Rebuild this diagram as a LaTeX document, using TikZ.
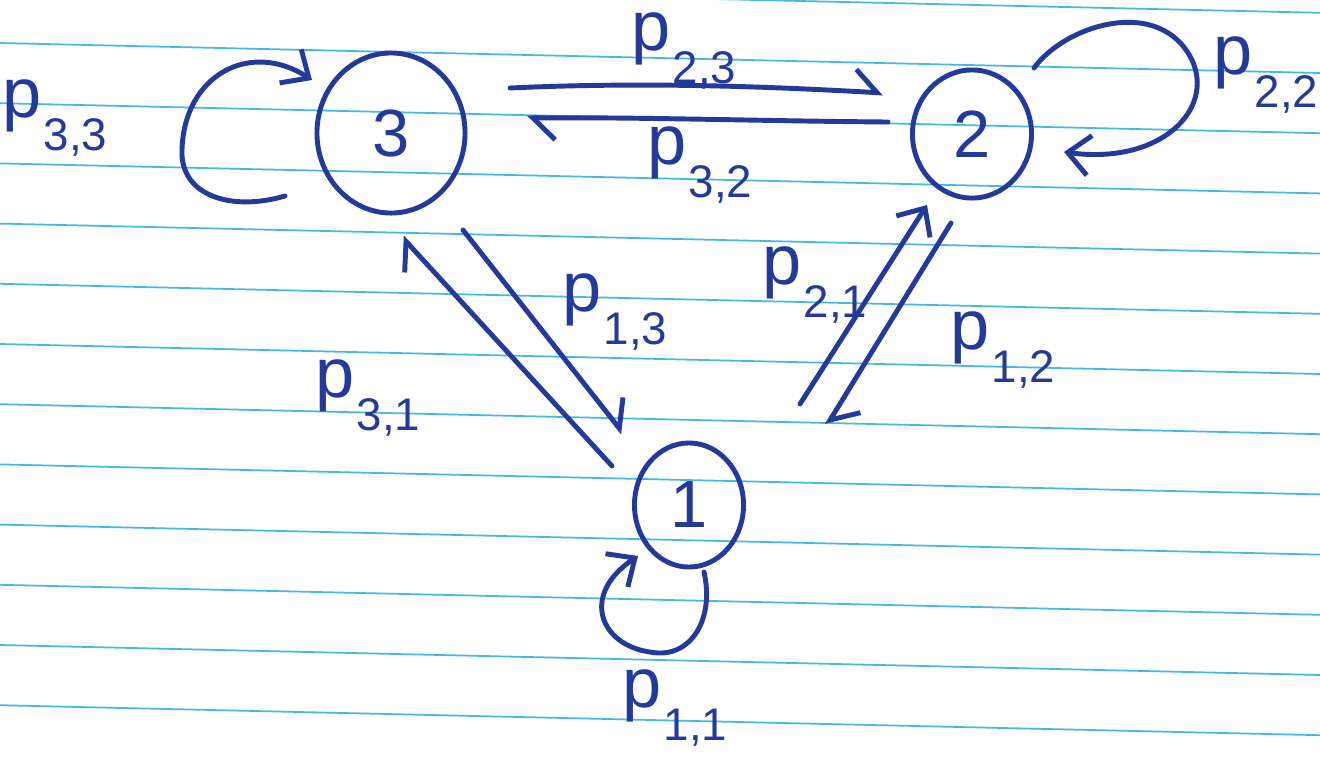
\documentclass[tikz,border=0pt]{standalone}
\usepackage{fontspec}
\setmainfont{Liberation Sans}
\usetikzlibrary{arrows.meta,shapes.geometric}
\definecolor{ink}{RGB}{35,58,155}
\definecolor{paperrule}{RGB}{70,185,225}
\newcommand{\plab}[2]{p\kern0.5pt\raisebox{-0.9ex}{\fontsize{13}{13}\selectfont #1,#2}}
\begin{document}
\begin{tikzpicture}[x=0.01cm,y=-0.01cm,
  state/.style={ellipse, draw=ink, line width=1.4pt, inner sep=0pt, text=ink, font=\fontsize{19}{19}\selectfont},
  lab/.style={text=ink, inner sep=0pt, font=\fontsize{20}{20}\selectfont},
  edge/.style={draw=ink, line width=1.4pt, line cap=round, line join=round},
  full/.style={-{Straight Barb[length=2.2mm,width=4mm]}},
  harp/.style={-{Straight Barb[harpoon,length=2.2mm,width=4.4mm]}}]
\useasboundingbox (0,0) rectangle (1320,757);
\fill[white] (0,0) rectangle (1320,757);
\foreach \k in {-1,...,12}
  \draw[paperrule, line width=0.5pt] (0,{43+60.2*\k}) -- (1320,{73+60.2*\k});

% states
\node[state, minimum width=14.8mm, minimum height=16mm] (n3) at (391,133) {3};
\node[state, minimum width=11.9mm, minimum height=12.8mm] (n2) at (972,134) {2};
\node[state, minimum width=10.9mm, minimum height=12.4mm] (n1) at (689,505) {1};

% connector end points
\coordinate (a32s) at (510,88);  \coordinate (a32e) at (883,93);
\coordinate (a23s) at (888,122); \coordinate (a23e) at (527,118);
\coordinate (a13s) at (612,466); \coordinate (a13e) at (402,237);
\coordinate (a31s) at (463,230); \coordinate (a31e) at (623,433);
\coordinate (a12s) at (800,404); \coordinate (a12e) at (927,205);
\coordinate (a21s) at (951,223); \coordinate (a21e) at (827,425);
\coordinate (l3s) at (285,196);  \coordinate (l3e) at (312,80);
\coordinate (l2s) at (1034,68);  \coordinate (l2e) at (1064,152);
\coordinate (l1s) at (704,572);  \coordinate (l1e) at (638,556);

% transitions
\draw[edge,harp] (a32s) .. controls (640,82) and (760,86) .. (a32e);
\draw[edge,harp] (a23s) .. controls (760,121) and (640,117) .. (a23e);
\draw[edge,harp] (a13s) -- (a13e);
\draw[edge,harp] (a31s) -- (a31e);
\draw[edge,full] (a12s) -- (a12e);
\draw[edge,harp] (a21s) -- (a21e);

% self loops
\draw[edge,full] (l3s) .. controls (230,212) and (180,195) .. (182,150)
                 .. controls (184,75) and (250,40) .. (l3e);
\draw[edge,full] (l2s) .. controls (1065,25) and (1160,-5) .. (1192,60)
                 .. controls (1215,110) and (1160,165) .. (l2e);
\draw[edge,full] (l1s) .. controls (715,620) and (690,660) .. (650,652)
                 .. controls (600,645) and (580,595) .. (l1e);

% labels
\node[lab] (p23) at (684,51) {\plab{2}{3}};
\node[lab] (p32) at (700,165) {\plab{3}{2}};
\node[lab] (p33) at (55,118) {\plab{3}{3}};
\node[lab] (p22) at (1266,75) {\plab{2}{2}};
\node[lab] (p13) at (615,312) {\plab{1}{3}};
\node[lab] (p31) at (368,398) {\plab{3}{1}};
\node[lab] (p21) at (815,285) {\plab{2}{1}};
\node[lab] (p12) at (1003,350) {\plab{1}{2}};
\node[lab] (p11) at (675,708) {\plab{1}{1}};
\end{tikzpicture}
\end{document}
